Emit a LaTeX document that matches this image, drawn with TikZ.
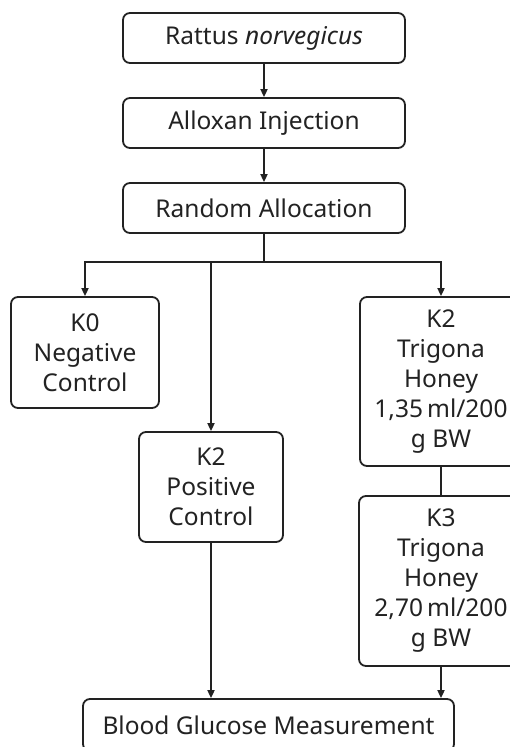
\documentclass[tikz,border=0pt]{standalone}
\usepackage{fontspec}
\setmainfont{Noto Sans}
\usetikzlibrary{arrows.meta}
\definecolor{ink}{HTML}{222222}
\begin{document}
\begin{tikzpicture}[x=1pt,y=-1pt,
  box/.style={draw=ink, text=ink, line width=1.8pt, rounded corners=7pt, inner sep=0pt, align=center,
    font=\fontsize{24.5}{30}\selectfont},
  arr/.style={draw=ink, line width=1.8pt, -{Triangle[length=8pt,width=7pt]}},
  ln/.style={draw=ink, line width=1.8pt}]
\useasboundingbox (0,0) rectangle (510,747);
\clip (0,0) rectangle (510,747);
\node[box, minimum width=282, minimum height=50] (n1) at (264,38) {Rattus \textit{norvegicus}};
\node[box, minimum width=282, minimum height=50] (n2) at (264,123) {Alloxan Injection};
\node[box, minimum width=282, minimum height=50] (n3) at (264,208) {Random Allocation};
\node[box, minimum width=148, minimum height=111] (k0) at (85,352.5) {K0\\Negative\\Control};
\node[box, minimum width=144, minimum height=110] (k2p) at (211,487) {K2\\Positive\\Control};
\node[box, minimum width=162, minimum height=169] (k2t) at (441,381.5) {K2\\Trigona\\Honey\\1,35\,ml/200\\g BW};
\node[box, minimum width=164, minimum height=170] (k3) at (441,581) {K3\\Trigona\\Honey\\2,70\,ml/200\\g BW};
\node[box, minimum width=371, minimum height=52] (bg) at (268.5,725) {Blood Glucose Measurement};
\coordinate (b) at (264,262);
\draw[arr] (n1) -- (n2);
\draw[arr] (n2) -- (n3);
\draw[ln] (n3.south) -- (b);
\draw[arr] (b) -| (k0.north);
\draw[arr] (b) -| (k2t.north);
\draw[arr] (b -| k2p.north) -- (k2p.north);
\draw[ln] (k2t) -- (k3);
\draw[arr] (k2p.south) -- (k2p.south |- bg.north);
\draw[arr] (k3.south) -- (k3.south |- bg.north);
\end{tikzpicture}
\end{document}
